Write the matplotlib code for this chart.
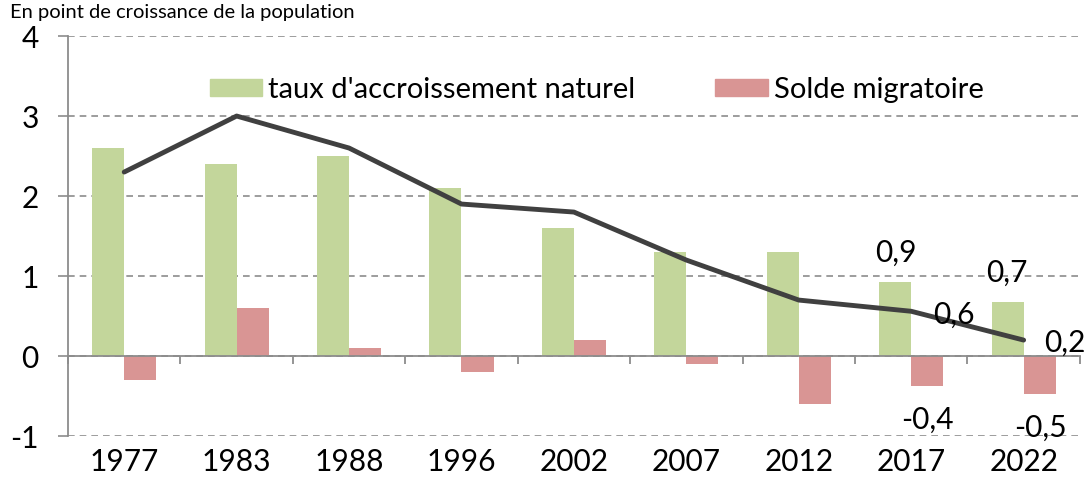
import matplotlib
matplotlib.use("Agg")
import matplotlib.pyplot as plt
import numpy as np
from matplotlib.patches import Patch

years = ["1977", "1983", "1988", "1996", "2002", "2007", "2012", "2017", "2022"]
naturel = [2.6, 2.4, 2.5, 2.1, 1.6, 1.3, 1.3, 0.92, 0.67]
migratoire = [-0.3, 0.6, 0.1, -0.2, 0.2, -0.1, -0.6, -0.37, -0.48]
total = [2.3, 3.0, 2.6, 1.9, 1.8, 1.2, 0.7, 0.56, 0.2]

GREEN = "#c3d69b"
RED = "#d99594"
LINE = "#404040"
AXIS = "#8c8c8c"

plt.rcParams["font.family"] = ["Lato", "DejaVu Sans"]

fig = plt.figure(figsize=(10.88, 4.9), dpi=100)
ax = fig.add_axes([0.0625, 0.110, 0.930, 0.8165])

x = np.arange(len(years))
w = 0.285
ax.bar(x - w / 2, naturel, w, color=GREEN, zorder=2)
ax.bar(x + w / 2, migratoire, w, color=RED, zorder=2)
ax.plot(x, total, color=LINE, lw=3.5, solid_capstyle="round", zorder=3)

ax.set_xlim(-0.5, len(years) - 0.5)
ax.set_ylim(-1, 4)
ax.set_yticks([-1, 0, 1, 2, 3, 4])
ax.set_yticklabels(["-1", "0", "1", "2", "3", "4"])
ax.yaxis.grid(True, color=AXIS, ls=(0, (4, 3)), lw=1.2, zorder=0)
ax.tick_params(axis="y", length=7, color=AXIS, width=1.2, labelsize=21.5, pad=14)

# category axis drawn at zero
ax.spines["bottom"].set_position(("data", 0))
ax.spines["bottom"].set_color(AXIS)
ax.spines["bottom"].set_linewidth(1.3)
ax.spines["left"].set_color(AXIS)
ax.spines["left"].set_linewidth(1.3)
for s in ("top", "right"):
    ax.spines[s].set_visible(False)
ax.set_xticks(np.arange(len(years) + 1) - 0.5)
ax.set_xticklabels([])
ax.tick_params(axis="x", direction="out", length=6, color=AXIS, width=1.3)
for i, yr in enumerate(years):
    ax.text(i, -0.065, yr, transform=ax.get_xaxis_transform(),
            ha="center", va="center", fontsize=21.5)

# value labels for the last two years
lab = dict(fontsize=21.5, ha="center", va="center")
ax.text(6.86, 1.29, "0,9", **lab)
ax.text(7.85, 1.04, "0,7", **lab)
ax.text(7.38, 0.52, "0,6", **lab)
ax.text(8.37, 0.16, "0,2", **lab)
ax.text(7.14, -0.8, "-0,4", **lab)
ax.text(8.15, -0.9, "-0,5", **lab)

handles = [Patch(color=GREEN, label="taux d'accroissement naturel"),
           Patch(color=RED, label="Solde migratoire")]
ax.legend(handles=handles, loc="center left", bbox_to_anchor=(0.14, 0.865),
          ncol=2, frameon=False, fontsize=21, handlelength=1.8, handleheight=0.55,
          handletextpad=0.2, columnspacing=2.75, borderaxespad=0, borderpad=0)

fig.text(0.009, 0.992, "En point de croissance de la population", fontsize=14.5,
         ha="left", va="top")

fig.savefig("out.png", dpi=100)
